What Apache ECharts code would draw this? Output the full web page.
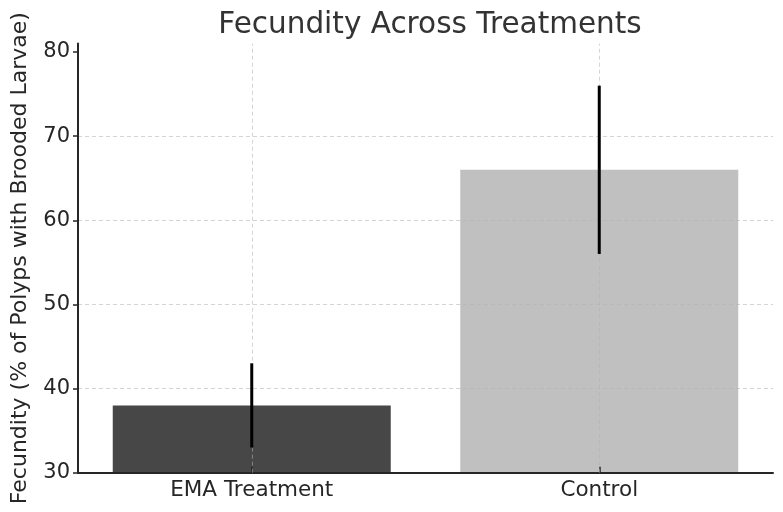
<!DOCTYPE html>
<html><head><meta charset="utf-8">
<script src="https://cdn.jsdelivr.net/npm/echarts@6/dist/echarts.min.js"></script>
<style>html,body{margin:0;padding:0;background:#fff}#c{width:783px;height:512px}</style>
</head><body><div id="c"></div>
<script>
const categories = ['EMA Treatment', 'Control'];
const means = [38, 66];
const errors = [5, 10];
const barColors = ['#474747', '#c0c0c0'];
const yTicks = [30, 40, 50, 60, 70, 80];

const FONT = 'DejaVu Sans';
const chart = echarts.init(document.getElementById('c'), null, {renderer: 'canvas'});
const gridColor = 'rgba(176,176,176,0.55)';
chart.setOption({
  animation: false,
  backgroundColor: '#fff',
  title: {
    text: 'Fecundity Across Treatments',
    left: 425, top: 5, textAlign: 'center',
    textStyle: {fontFamily: FONT, fontSize: 29.5, fontWeight: 'normal', color: '#333'}
  },
  grid: {left: 78, right: 10, top: 43.6, bottom: 39.3, containLabel: false},
  xAxis: {
    type: 'category', data: categories, z: 3,
    axisLine: {lineStyle: {color: '#262626', width: 2}},
    axisTick: {show: true, alignWithLabel: true, inside: true, length: 6, lineStyle: {color: '#262626', width: 1.5}},
    axisLabel: {fontFamily: FONT, fontSize: 21.5, color: '#262626', margin: 7},
    splitLine: {show: false}
  },
  yAxis: {
    type: 'value', min: 30, max: 81, interval: 10, z: 3,
    name: 'Fecundity (% of Polyps with Brooded Larvae)',
    nameLocation: 'middle', nameGap: 47, nameRotate: 90,
    nameTextStyle: {fontFamily: FONT, fontSize: 22, color: '#262626'},
    axisLine: {show: true, lineStyle: {color: '#262626', width: 2}},
    axisTick: {show: true, length: 5, customValues: yTicks, lineStyle: {color: '#262626', width: 1.5}},
    axisLabel: {fontFamily: FONT, fontSize: 21, color: '#262626', margin: 8, customValues: yTicks},
    splitLine: {show: true, showMinLine: false, showMaxLine: false, lineStyle: {color: gridColor, type: [4, 3], width: 1}}
  },
  series: [
    {
      type: 'bar', barWidth: '80%',
      data: means.map((v, i) => ({value: v, itemStyle: {color: barColors[i]}})),
      markLine: {
        silent: true, symbol: 'none', label: {show: false},
        lineStyle: {color: gridColor, type: [4, 3], width: 1},
        data: categories.map(c => ({xAxis: c}))
      }
    },
    {
      type: 'custom', z: 5,
      data: categories.map((c, i) => [i, means[i] - errors[i], means[i] + errors[i]]),
      renderItem: function (params, api) {
        const x = api.value(0);
        const lo = api.coord([x, api.value(1)]);
        const hi = api.coord([x, api.value(2)]);
        return {type: 'line', shape: {x1: lo[0], y1: lo[1], x2: hi[0], y2: hi[1]},
                style: {stroke: '#000', lineWidth: 3}};
      }
    }
  ]
});
</script></body></html>
